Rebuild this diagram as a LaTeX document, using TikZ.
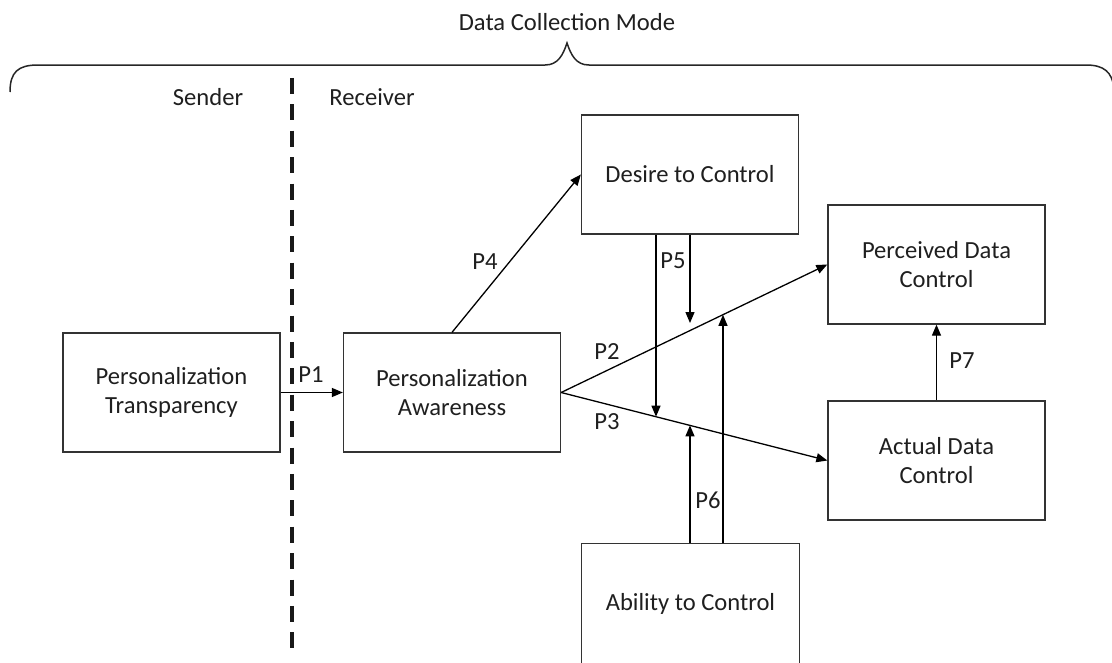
\documentclass[tikz,border=0pt]{standalone}
\usepackage{fontspec}
\setmainfont{Carlito}
\usetikzlibrary{arrows.meta}
\begin{document}
\begin{tikzpicture}[x=1pt,y=-1pt,
  boxline/.style={draw=black!80, line width=1.3pt},
  box/.style={boxline, minimum width=217pt, minimum height=119pt,
    align=center, inner sep=0pt, text=black!88, font=\fontsize{24.6}{29.5}\selectfont},
  lbl/.style={text=black!88, font=\fontsize{24.6}{29.5}\selectfont, inner sep=0pt},
  arr/.style={draw=black, line width=1.3pt, -{Triangle[length=11pt,width=9pt]}},
  bracestyle/.style={draw=black!85, line width=1.5pt},
  divider/.style={draw=black!90, line width=4pt, dash pattern=on 16pt off 10.4pt},
  ]
\useasboundingbox (0,0) rectangle (1112,662);

% brace and its label
\node[lbl] (mode) at (567,22) {Data Collection Mode};
\draw[bracestyle] (10,92) .. controls (10,72) and (18,65) .. (38,65) -- (545,65)
  .. controls (558,65) and (563,55) .. (567,43)
  .. controls (571,55) and (576,65) .. (589,65) -- (1086,65)
  .. controls (1104,65) and (1112,72) .. (1114,88);

% sender / receiver divider
\node[lbl] (sender) at (208,97) {Sender};
\node[lbl] (receiver) at (372,97) {Receiver};
\coordinate (divtop) at (292,77.9);
\coordinate (divbot) at (292,648);
\draw[divider] (divtop) -- (divbot);

% boxes
\node[box] (trans) at (171.5,392.5) {Personalization\\Transparency};
\node[box] (aware) at (452,392.5) {Personalization\\Awareness};
\node[box] (desire) at (690,174.5) {Desire to Control};
\node[box] (perceived) at (936.5,264.5) {Perceived Data\\Control};
\node[box] (actual) at (936.5,460.5) {Actual Data\\Control};
\node[box, draw=none] (ability) at (690.5,603.5) {Ability to Control};
\draw[boxline] ([yshift=-8pt]ability.south west) -- (ability.north west)
  -- (ability.north east) -- ([yshift=-8pt]ability.south east);

% main connectors
\draw[arr] (trans.east) -- (aware.west);
\draw[arr] (aware.north) -- (desire.west);
\draw[arr] (aware.east) -- (perceived.west);
\draw[arr] (aware.east) -- (actual.west);
\draw[arr] (actual.north) -- (perceived.south);

% moderating arrows
\coordinate (p5a) at (656,416.7);
\coordinate (p5b) at (690,323);
\coordinate (p6a) at (690,425.4);
\coordinate (p6b) at (723,314.8);
\draw[arr] (desire.south -| p5a) -- (p5a);
\draw[arr] (desire.south -| p5b) -- (p5b);
\draw[arr] (ability.north -| p6a) -- (p6a);
\draw[arr] (ability.north -| p6b) -- (p6b);

% labels
\node[lbl] (l1) at (311,375) {P1};
\node[lbl] (l2) at (607,352) {P2};
\node[lbl] (l3) at (607,422) {P3};
\node[lbl] (l4) at (485,262) {P4};
\node[lbl] (l5) at (673,261) {P5};
\node[lbl] (l6) at (708,500) {P6};
\node[lbl] (l7) at (962,361) {P7};
\end{tikzpicture}
\end{document}
